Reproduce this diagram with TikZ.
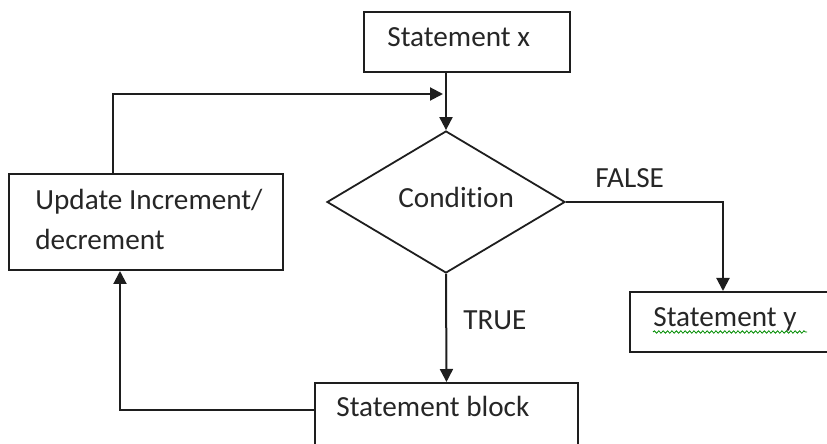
\documentclass[tikz,border=0pt]{standalone}
\usepackage{fontspec}
\setmainfont{Carlito}[Ligatures=NoCommon]
\usetikzlibrary{shapes.geometric,arrows.meta,decorations.pathmorphing}
\definecolor{ink}{HTML}{1E1E1E}
\definecolor{txt}{HTML}{262626}
\begin{document}
\begin{tikzpicture}[x=0.5pt,y=-0.5pt,
  box/.style={draw=ink, rectangle, inner sep=0pt, line width=1pt},
  decision/.style={draw=ink, diamond, inner sep=0pt, line width=0.9pt},
  lbl/.style={anchor=base west, inner sep=0pt, text=txt,
    font=\fontsize{14.6}{20}\selectfont},
  flow/.style={draw=ink, line width=1pt, -{Triangle[length=6.5pt,width=6.5pt]}}]
\useasboundingbox (0,0) rectangle (827,444);
\clip (0,0) rectangle (827,444);

% boxes and decision
\node[box, minimum width=103pt, minimum height=30pt] (sx) at (467,42) {};
\node[box, minimum width=137pt, minimum height=48pt] (upd) at (146,222) {};
\node[decision, minimum width=119pt, minimum height=71pt] (cond) at (446,202) {};
\node[box, minimum width=131.5pt, minimum height=43.5pt] (blk) at (446.5,426.5) {};
\node[box, minimum width=105pt, minimum height=30pt] (sy) at (735,322) {};

% texts
\node[lbl] (sxt) at (387,47) {Statement x};
\node[lbl] (updt1) at (35,210) {Update Increment/};
\node[lbl] (updt2) at (35,250) {decrement};
\node[lbl] (condt) at (398,208) {Condition};
\node[lbl] (truet) at (463,330) {TRUE};
\node[lbl] (falset) at (595,188) {FALSE};
\node[lbl] (blkt) at (336,417) {Statement block};
\node[lbl] (syt) at (653,327) {Statement y};

% spell-check underline
\draw[green!55!black, line width=0.4pt, decorate,
  decoration={snake, amplitude=0.6pt, segment length=2.2pt}]
  (syt.base west) ++(0,5) -- ++(154,0);

% connectors
\coordinate (loopc) at (113,94);
\coordinate (joinc) at (448,94);
\coordinate (fc) at (723,202);
\coordinate (lc) at (120,410);

\draw[flow] (cond.north |- sx.south) -- (cond.north);
\draw[flow, shorten >=2.5pt] (upd.north -| loopc) -- (loopc) -- (joinc);
\draw[flow] (cond.south) -- (blk.north);
\draw[flow] (cond.east) -- (fc) -- (fc |- sy.north);
\draw[flow] (blk.west |- lc) -- (lc) -- (lc |- upd.south);
\end{tikzpicture}
\end{document}
